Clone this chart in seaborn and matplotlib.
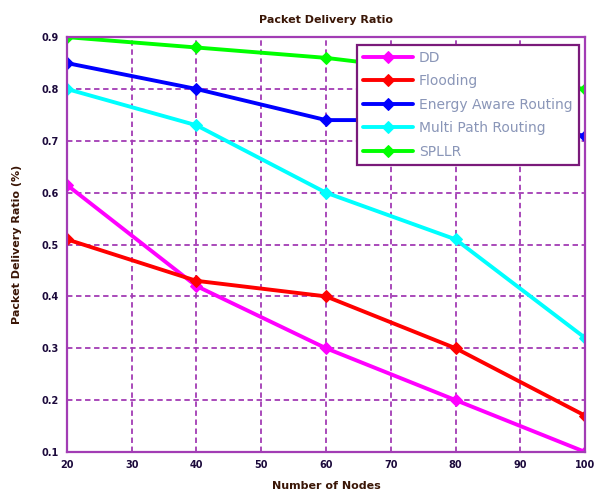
import matplotlib
matplotlib.use("Agg")
import matplotlib.pyplot as plt
import numpy as np
import pandas as pd
import seaborn as sns

nodes = [20, 40, 60, 80, 100]
dd = [0.615, 0.42, 0.30, 0.20, 0.10]
flooding = [0.51, 0.43, 0.40, 0.30, 0.17]
energy_aware = [0.85, 0.80, 0.74, 0.74, 0.71]
multi_path = [0.80, 0.73, 0.60, 0.51, 0.32]
spllr = [0.90, 0.88, 0.86, 0.83, 0.80]

series_names = ["DD", "Flooding", "Energy Aware Routing", "Multi Path Routing", "SPLLR"]
series_vals = [dd, flooding, energy_aware, multi_path, spllr]
colors = ["#ff00ff", "#ff0000", "#0000ff", "#00ffff", "#00ff00"]

x_ticks = [20, 30, 40, 50, 60, 70, 80, 90, 100]
y_ticks = [0.1, 0.2, 0.3, 0.4, 0.5, 0.6, 0.7, 0.8, 0.9]

rows = []
for name, vals in zip(series_names, series_vals):
    for n, v in zip(nodes, vals):
        rows.append({"nodes": n, "pdr": v, "scheme": name})
df = pd.DataFrame(rows)

sns.set_style("white")
plt.rcParams["font.family"] = ["DejaVu Sans"]

fig = plt.figure(figsize=(5.97, 4.95), dpi=100)
ax = fig.add_axes([0.112, 0.087, 0.868, 0.838])

purple = "#a23cb4"
for name, col in zip(series_names, colors):
    sns.lineplot(data=df[df["scheme"] == name], x="nodes", y="pdr", ax=ax,
                 color=col, marker="D", markersize=6.5, markeredgecolor=col,
                 linewidth=2.8, label=name)

ax.set_xlim(20, 100)
ax.set_ylim(0.1, 0.9)
ax.set_xticks(x_ticks)
ax.set_yticks(y_ticks)
ax.set_xticklabels([str(t) for t in x_ticks])
ax.set_yticklabels([f"{t:.1f}" for t in y_ticks])
ax.grid(True, color=purple, linestyle=(0, (3, 2)), linewidth=1.3)
for s in ax.spines.values():
    s.set_color(purple)
    s.set_linewidth(1.6)
ax.tick_params(direction="in", length=4, color=purple, labelsize=7,
               labelcolor="#1c0a3c", pad=6)
for lab in ax.get_xticklabels() + ax.get_yticklabels():
    lab.set_fontweight("bold")

ax.set_title("Packet Delivery Ratio", fontsize=8, fontweight="bold",
             color="#3a1606", pad=10)
ax.set_xlabel("Number of Nodes", fontsize=8, fontweight="bold", color="#3a1606",
              labelpad=8)
ax.set_ylabel("Packet Delivery Ratio (%)", fontsize=8, fontweight="bold",
              color="#3a1606", labelpad=14)

leg = ax.legend(loc="upper right", bbox_to_anchor=(0.988, 0.982), fontsize=10,
                frameon=True, fancybox=False, handlelength=3.6, framealpha=1,
                borderpad=0.45, labelspacing=0.68, borderaxespad=0,
                handletextpad=0.4)
leg.get_frame().set_edgecolor("#7a1a7a")
leg.get_frame().set_facecolor("white")
leg.get_frame().set_linewidth(1.6)
for t in leg.get_texts():
    t.set_color("#8a96b8")

fig.savefig("out.png", dpi=100)
